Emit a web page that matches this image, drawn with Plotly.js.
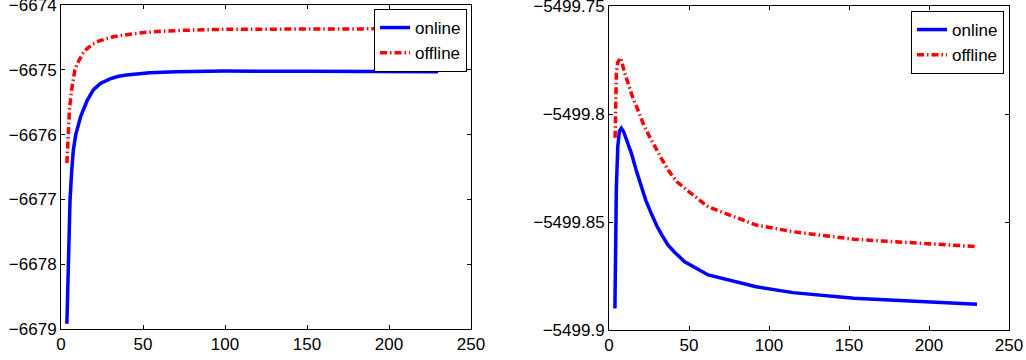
<!DOCTYPE html>
<html>
<head>
<meta charset="utf-8">
<script src="https://cdn.plot.ly/plotly-3.0.1.min.js"></script>
<style>html,body{margin:0;padding:0;background:#fff;}#chart{width:1026px;height:360px;}</style>
</head>
<body>
<div id="chart"></div>
<script>
// Left panel
const leftOnlineX = [3.6, 4.0, 4.5, 5.0, 5.5, 6.5, 7.5, 9.0, 10.5, 12.0, 13.6, 16.0, 19.7, 24, 29.9, 35, 40, 47, 54, 70, 100, 150, 200, 230];
const leftOnlineY = [-6678.92, -6678.45, -6677.83, -6677.38, -6677.01, -6676.57, -6676.24, -6676.00, -6675.83, -6675.72, -6675.62, -6675.47, -6675.31, -6675.21, -6675.14, -6675.10, -6675.08, -6675.06, -6675.045, -6675.03, -6675.02, -6675.022, -6675.028, -6675.03];
const leftOfflineX = [3.6, 4.5, 5.2, 6.5, 7.5, 8.5, 10, 11.6, 13.5, 15.6, 19.5, 23.8, 28, 31.9, 42, 52, 62, 75, 100, 150, 200, 230];
const leftOfflineY = [-6676.44, -6676.03, -6675.60, -6675.30, -6675.13, -6675.00, -6674.90, -6674.82, -6674.74, -6674.68, -6674.60, -6674.55, -6674.515, -6674.49, -6674.45, -6674.42, -6674.405, -6674.39, -6674.375, -6674.37, -6674.365, -6674.365];
// Right panel
const rightOnlineX = [3.7, 4.6, 5.5, 6.5, 7.7, 9, 10.5, 13.9, 17, 20.2, 23, 26.4, 30, 33, 36.9, 41, 47.3, 62, 92, 115, 153, 230];
const rightOnlineY = [-5499.890, -5499.834, -5499.815, -5499.808, -5499.8066, -5499.808, -5499.811, -5499.818, -5499.826, -5499.834, -5499.840, -5499.846, -5499.852, -5499.856, -5499.8607, -5499.864, -5499.8684, -5499.8745, -5499.880, -5499.8827, -5499.8853, -5499.8881];
const rightOfflineX = [3.8, 4.6, 5.5, 7.3, 9.8, 12, 15, 18, 21.3, 25, 28.5, 32.7, 37, 42.3, 50, 62, 92, 115, 153, 230];
const rightOfflineY = [-5499.811, -5499.781, -5499.776, -5499.774, -5499.781, -5499.786, -5499.7927, -5499.798, -5499.8043, -5499.810, -5499.815, -5499.8205, -5499.826, -5499.8313, -5499.836, -5499.843, -5499.8514, -5499.8545, -5499.858, -5499.8614];

const seriesNames = ["online", "offline"];
const xTicks = [0, 50, 100, 150, 200, 250];
const leftYTicks = [-6679, -6678, -6677, -6676, -6675, -6674];
const leftYTickText = ["\u22126679", "\u22126678", "\u22126677", "\u22126676", "\u22126675", "\u22126674"];
const rightYTicks = [-5499.9, -5499.85, -5499.8, -5499.75];
const rightYTickText = ["\u22125499.9", "\u22125499.85", "\u22125499.8", "\u22125499.75"];

const blue = "#0000ff", red = "#ff0000";
const lw = 3.5;
const dd = "7px,3px,1.5px,3px";

const traces = [
  {x: leftOnlineX, y: leftOnlineY, name: seriesNames[0], mode: "lines", line: {color: blue, width: lw}, xaxis: "x", yaxis: "y", legend: "legend"},
  {x: leftOfflineX, y: leftOfflineY, name: seriesNames[1], mode: "lines", line: {color: red, width: lw, dash: dd}, xaxis: "x", yaxis: "y", legend: "legend"},
  {x: rightOnlineX, y: rightOnlineY, name: seriesNames[0], mode: "lines", line: {color: blue, width: lw}, xaxis: "x2", yaxis: "y2", legend: "legend2"},
  {x: rightOfflineX, y: rightOfflineY, name: seriesNames[1], mode: "lines", line: {color: red, width: lw, dash: dd}, xaxis: "x2", yaxis: "y2", legend: "legend2"}
];

const font = {family: "Liberation Sans, Arial, sans-serif", size: 17, color: "#000"};
const axisCommon = {
  showgrid: false, zeroline: false, showline: true, linecolor: "#000", linewidth: 1,
  mirror: "ticks", ticks: "inside", ticklen: 4, tickcolor: "#000", tickwidth: 1,
  tickfont: font, fixedrange: true, ticklabeloverflow: "allow"
};

const layout = {
  width: 1026, height: 360,
  margin: {l: 0, r: 0, t: 0, b: 0},
  paper_bgcolor: "#fff", plot_bgcolor: "#fff",
  font: font,
  xaxis: Object.assign({}, axisCommon, {domain: [61/1026, 471/1026], range: [0, 250], tickvals: xTicks, anchor: "y"}),
  yaxis: Object.assign({}, axisCommon, {domain: [1 - 329/360, 1 - 5/360], range: [-6679, -6674], tickvals: leftYTicks, ticktext: leftYTickText, anchor: "x"}),
  xaxis2: Object.assign({}, axisCommon, {domain: [609/1026, 1009/1026], range: [0, 250], tickvals: xTicks, anchor: "y2"}),
  yaxis2: Object.assign({}, axisCommon, {domain: [1 - 330/360, 1 - 6/360], range: [-5499.9, -5499.75], tickvals: rightYTicks, ticktext: rightYTickText, anchor: "x2"}),
  legend: {x: 467/1026, y: 1 - 9/360, xanchor: "right", yanchor: "top", bgcolor: "#fff", bordercolor: "#000", borderwidth: 1, font: font, tracegroupgap: 0, itemwidth: 30},
  legend2: {x: 1004/1026, y: 1 - 11/360, xanchor: "right", yanchor: "top", bgcolor: "#fff", bordercolor: "#000", borderwidth: 1, font: font, tracegroupgap: 0, itemwidth: 30},
  showlegend: true
};

Plotly.newPlot("chart", traces, layout, {staticPlot: true, displayModeBar: false});
</script>
</body>
</html>
